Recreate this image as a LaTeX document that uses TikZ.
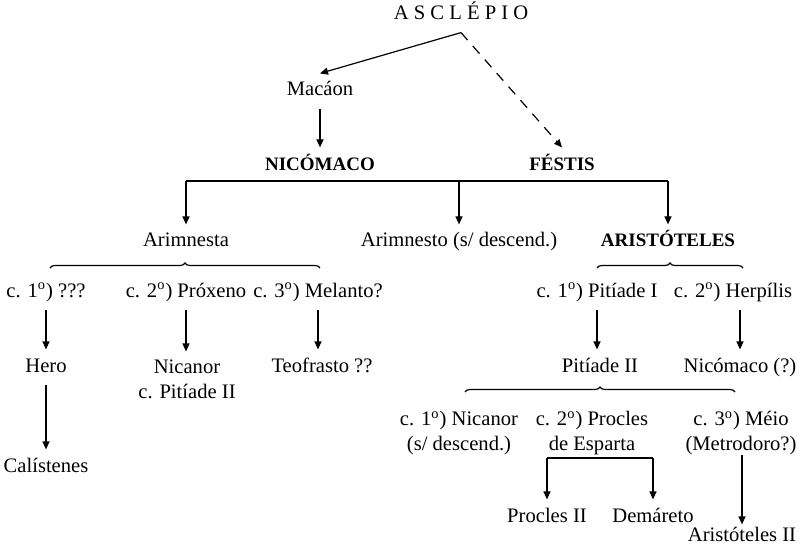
\documentclass[tikz,border=0pt]{standalone}
\usepackage{fontspec}
\setmainfont{Liberation Serif}
\usepackage{tikz}
\usetikzlibrary{arrows.meta}
\usetikzlibrary{decorations.pathreplacing}

\newcommand{\ordsup}{\textsuperscript{o}}

\begin{document}
\begin{tikzpicture}[
  x=0.5pt, y=-0.5pt,
  line width=0.6pt,
  font=\fontsize{10.3}{12.5}\selectfont,
  pessoa/.style={text height=7pt, text depth=2pt, inner sep=4pt},
  chefe/.style={pessoa, font=\fontsize{9.5}{12}\selectfont\bfseries},
  duplo/.style={align=center, inner sep=4pt},
  seta/.style={-{Triangle[length=4pt,width=3.5pt]}},
  chave/.style={decorate, decoration={brace, amplitude=2.5pt}}
]
\useasboundingbox (0,0) rectangle (804,556);

% Asclepio and his line
\node[pessoa] (asclepio) at (461,15) {A S C L É P I O};
\node[pessoa] (macaon) at (320,91) {Macáon};
\node[chefe] (nicomaco) at (320,165) {NICÓMACO};
\node[chefe] (festis) at (562,165) {FÉSTIS};

\draw[seta] (asclepio.south) -- (macaon.north);
\draw[seta, dash pattern=on 5pt off 4pt] (asclepio.south) -- (festis.north);
\draw[seta] (macaon) -- (nicomaco);

% Children of Nicomaco and Festis
\coordinate (casal-l) at (186,181);
\coordinate (casal-m) at (459,181);
\coordinate (casal-r) at (668,181);
\node[pessoa] (arimnesta) at (186,242) {Arimnesta};
\node[pessoa] (arimnesto) at (459,242) {Arimnesto (s/ descend.)};
\node[chefe] (aristoteles) at (668,242) {ARISTÓTELES};

\draw (casal-l) -- (casal-r);
\draw[seta] (casal-l) -- (arimnesta.north);
\draw[seta] (casal-m) -- (arimnesto.north);
\draw[seta] (casal-r) -- (aristoteles.north);

% Marriages of Arimnesta
\draw[chave] (50,268) -- (320,268);
\node[pessoa] (c11) at (46,292) {c. 1\ordsup) ???};
\node[pessoa] (c12) at (186,292) {c. 2\ordsup) Próxeno};
\node[pessoa] (c13) at (318,292) {c. 3\ordsup) Melanto?};

\node[pessoa] (hero) at (46,367) {Hero};
\node[duplo] (nicanor) at (187,379.5) {Nicanor\\c. Pitíade II};
\node[pessoa] (teofrasto) at (322,367) {Teofrasto ??};
\node[pessoa] (calistenes) at (46,467) {Calístenes};

\draw[seta] (c11) -- (hero);
\draw[seta] (c12.south) -- (c12.south |- nicanor.north);
\draw[seta] (c13.south) -- (c13.south |- teofrasto.north);
\draw[seta] (hero) -- (calistenes);

% Marriages of Aristoteles
\draw[chave] (597,268) -- (743,268);
\node[pessoa] (c21) at (597,292) {c. 1\ordsup) Pitíade I};
\node[pessoa] (c22) at (733,292) {c. 2\ordsup) Herpílis};
\node[pessoa] (pitiade) at (600,367) {Pitíade II};
\node[pessoa] (nicomacoII) at (740,367) {Nicómaco (?)};

\draw[seta] (c21.south) -- (c21.south |- pitiade.north);
\draw[seta] (nicomacoII.north |- c22.south) -- (nicomacoII.north);

% Marriages of Pitiade II
\draw[chave] (465,392) -- (735,392);
\node[duplo] (c31) at (459,433) {c. 1\ordsup) Nicanor\\(s/ descend.)};
\node[duplo] (c32) at (592,433) {c. 2\ordsup) Procles\\de Esparta};
\node[duplo] (c33) at (741,433) {c. 3\ordsup) Méio\\(Metrodoro?)};

\coordinate (pr-l) at (547,458);
\coordinate (pr-r) at (653,458);
\node[pessoa] (proclesII) at (547,517) {Procles II};
\node[pessoa] (demareto) at (653,517) {Demáreto};
\node[pessoa, inner sep=1pt] (aristotelesII) at (742,536) {Aristóteles II};

\draw (pr-l) -- (pr-r);
\draw[seta] (pr-l) -- (proclesII.north);
\draw[seta] (pr-r) -- (demareto.north);
\draw[seta] ([yshift=4pt]aristotelesII.north |- c33.south) -- (aristotelesII.north);

\end{tikzpicture}
\end{document}
